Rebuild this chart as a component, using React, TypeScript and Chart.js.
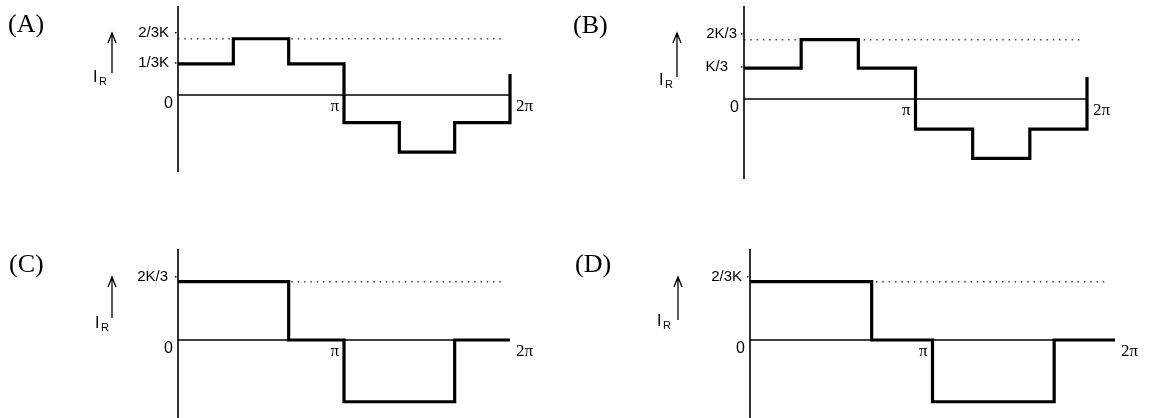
import React, { useEffect, useRef } from "react";
import { Chart, registerables } from "chart.js";

Chart.register(...registerables);

const W = 1150;
const H = 418;

// x positions are in units of π/3 (0 … 6 = 0 … 2π); y values in units of K
const edgesAB = [0, 1, 2, 3, 4, 5, 6];
const levelsA = [0.37, 0.67, 0.37, -0.33, -0.68, -0.33];
const levelsB = [0.35, 0.67, 0.35, -0.34, -0.67, -0.34];
const endRiseA = 0.25;
const endRiseB = 0.25;

const edgesCD = [0, 2, 3, 5, 6];
const levelsC = [0.67, 0, -0.71, 0];
const levelsD = [0.67, 0, -0.71, 0];

const dottedLevel = 0.67;
const dottedEnd = 5.87;

const yTickTextA = ["2/3K", "1/3K"];
const yTickValA = [0.67, 0.37];
const yTickTextB = ["2K/3", "K/3"];
const yTickValB = [0.67, 0.35];
const yTickTextC = ["2K/3"];
const yTickValC = [0.67];
const yTickTextD = ["2/3K"];
const yTickValD = [0.67];

const xTickText = ["0", "π", "2π"];
const xTickVal = [0, 3, 6];

const panelLetters = ["(A)", "(B)", "(C)", "(D)"];

type Panel = {
  letter: string;
  edges: number[];
  levels: number[];
  endRise: number | null;
  tickText: string[];
  tickVal: number[];
  tickDx: number[];
  tickDy: number[];
  area: { left: number; right: number; top: number; bottom: number };
  yMin: number;
  yMax: number;
  letterPos: [number, number];
  arrow: { x: number; y1: number; y2: number };
  ir: { x: number; base: number };
};

const panels: Panel[] = [
  {
    letter: panelLetters[0],
    edges: edgesAB,
    levels: levelsA,
    endRise: endRiseA,
    tickText: yTickTextA,
    tickVal: yTickValA,
    tickDx: [-9, -9],
    tickDy: [-6, -1],
    area: { left: 178, right: 510, top: 6, bottom: 172 },
    yMin: -0.917,
    yMax: 1.06,
    letterPos: [8, 25],
    arrow: { x: 112, y1: 33, y2: 73 },
    ir: { x: 93, base: 82 },
  },
  {
    letter: panelLetters[1],
    edges: edgesAB,
    levels: levelsB,
    endRise: endRiseB,
    tickText: yTickTextB,
    tickVal: yTickValB,
    tickDx: [-7, -16],
    tickDy: [-6, -1],
    area: { left: 744, right: 1087, top: 6, bottom: 179 },
    yMin: -0.904,
    yMax: 1.051,
    letterPos: [573, 26],
    arrow: { x: 677, y1: 33, y2: 77 },
    ir: { x: 659, base: 85 },
  },
  {
    letter: panelLetters[2],
    edges: edgesCD,
    levels: levelsC,
    endRise: null,
    tickText: yTickTextC,
    tickVal: yTickValC,
    tickDx: [-10],
    tickDy: [-5],
    area: { left: 178, right: 510, top: 249, bottom: 418 },
    yMin: -0.897,
    yMax: 1.046,
    letterPos: [9, 265],
    arrow: { x: 112, y1: 277, y2: 318 },
    ir: { x: 95, base: 328 },
  },
  {
    letter: panelLetters[3],
    edges: edgesCD,
    levels: levelsD,
    endRise: null,
    tickText: yTickTextD,
    tickVal: yTickValD,
    tickDx: [-8],
    tickDy: [-5],
    area: { left: 750, right: 1115, top: 249, bottom: 418 },
    yMin: -0.897,
    yMax: 1.046,
    letterPos: [575, 265],
    arrow: { x: 678, y1: 277, y2: 320 },
    ir: { x: 657, base: 326 },
  },
];

function stepPoints(edges: number[], levels: number[], endRise: number | null) {
  const pts = levels.map((v, i) => ({ x: edges[i], y: v }));
  const last = edges[edges.length - 1];
  pts.push({ x: last, y: levels[levels.length - 1] });
  if (endRise !== null) pts.push({ x: last, y: endRise });
  return pts;
}

const SANS = '"Liberation Sans", Arial, sans-serif';
const SERIF = '"Liberation Serif", "Times New Roman", serif';

function makeLabelPlugin(p: Panel) {
  return {
    id: "labels",
    afterDatasetsDraw(chart: any) {
      const ctx: CanvasRenderingContext2D = chart.ctx;
      const xs = chart.scales.x;
      const ys = chart.scales.y;
      const x0 = xs.getPixelForValue(0);
      const zeroY = ys.getPixelForValue(0);
      ctx.save();
      ctx.fillStyle = "#000";
      ctx.strokeStyle = "#000";

      // y tick labels
      ctx.font = `15px ${SANS}`;
      ctx.textAlign = "right";
      ctx.textBaseline = "middle";
      p.tickText.forEach((t, i) => {
        const y = ys.getPixelForValue(p.tickVal[i]) + p.tickDy[i];
        ctx.fillText(t, x0 + p.tickDx[i], y);
        ctx.fillRect(x0 - 3, y - 0.75, 1.5, 1.5);
      });

      // x labels
      ctx.font = `16px ${SANS}`;
      ctx.textAlign = "right";
      ctx.fillText(xTickText[0], x0 - 5, zeroY + 9);
      ctx.font = `17px ${SERIF}`;
      ctx.textAlign = "right";
      ctx.fillText(xTickText[1], xs.getPixelForValue(xTickVal[1]) - 5, zeroY + 12);
      ctx.textAlign = "left";
      ctx.fillText(xTickText[2], xs.getPixelForValue(xTickVal[2]) + 6, zeroY + 12);

      // panel letter
      ctx.font = `26px ${SERIF}`;
      ctx.textAlign = "left";
      ctx.textBaseline = "middle";
      ctx.fillText(p.letter, p.letterPos[0], p.letterPos[1]);

      // arrow
      const a = p.arrow;
      ctx.lineWidth = 1.3;
      ctx.beginPath();
      ctx.moveTo(a.x, a.y2);
      ctx.lineTo(a.x, a.y1);
      ctx.moveTo(a.x - 4, a.y1 + 10);
      ctx.lineTo(a.x, a.y1);
      ctx.lineTo(a.x + 4, a.y1 + 10);
      ctx.stroke();

      // I_R
      ctx.textBaseline = "alphabetic";
      ctx.font = `16px ${SANS}`;
      ctx.fillText("I", p.ir.x, p.ir.base);
      const iw = ctx.measureText("I").width;
      ctx.font = `11px ${SANS}`;
      ctx.fillText("R", p.ir.x + iw + 1.5, p.ir.base + 3);

      ctx.restore();
    },
  };
}

function PanelChart({ p }: { p: Panel }) {
  const ref = useRef<HTMLCanvasElement | null>(null);
  useEffect(() => {
    if (!ref.current) return;
    const chart = new Chart(ref.current, {
      type: "line",
      data: {
        datasets: [
          {
            data: stepPoints(p.edges, p.levels, p.endRise),
            stepped: "before",
            borderColor: "#000",
            borderWidth: 3.2,
            borderJoinStyle: "miter",
            borderCapStyle: "butt",
            pointRadius: 0,
            fill: false,
            clip: false,
            order: 0,
          } as any,
          {
            data: [
              { x: 0, y: 0 },
              { x: 6, y: 0 },
            ],
            borderColor: "#000",
            borderWidth: 1.5,
            pointRadius: 0,
            fill: false,
            clip: false,
            order: 1,
          },
          {
            data: [
              { x: 0, y: p.yMin },
              { x: 0, y: p.yMax },
            ],
            borderColor: "#000",
            borderWidth: 1.6,
            pointRadius: 0,
            fill: false,
            clip: false,
            order: 2,
          },
          {
            data: [
              { x: 0, y: dottedLevel },
              { x: dottedEnd, y: dottedLevel },
            ],
            borderColor: "#444",
            borderWidth: 1.5,
            borderDash: [1.5, 4.8],
            borderCapStyle: "butt",
            pointRadius: 0,
            fill: false,
            clip: false,
            order: 3,
          } as any,
        ],
      },
      options: {
        responsive: false,
        animation: false,
        devicePixelRatio: 1,
        events: [],
        layout: {
          padding: {
            left: p.area.left,
            right: W - p.area.right,
            top: p.area.top,
            bottom: H - p.area.bottom,
          },
        },
        scales: {
          x: { type: "linear", min: 0, max: 6, display: false },
          y: { type: "linear", min: p.yMin, max: p.yMax, display: false },
        },
        plugins: {
          legend: { display: false },
          tooltip: { enabled: false },
        },
      },
      plugins: [makeLabelPlugin(p)],
    } as any);
    return () => chart.destroy();
  }, [p]);
  return (
    <canvas
      ref={ref}
      width={W}
      height={H}
      style={{ position: "absolute", left: 0, top: 0, width: W, height: H }}
    />
  );
}

export default function App() {
  return (
    <div
      style={{
        position: "fixed",
        left: 0,
        top: 0,
        width: W,
        height: H,
        background: "#fff",
        overflow: "hidden",
      }}
    >
      {panels.map((p) => (
        <PanelChart key={p.letter} p={p} />
      ))}
    </div>
  );
}
